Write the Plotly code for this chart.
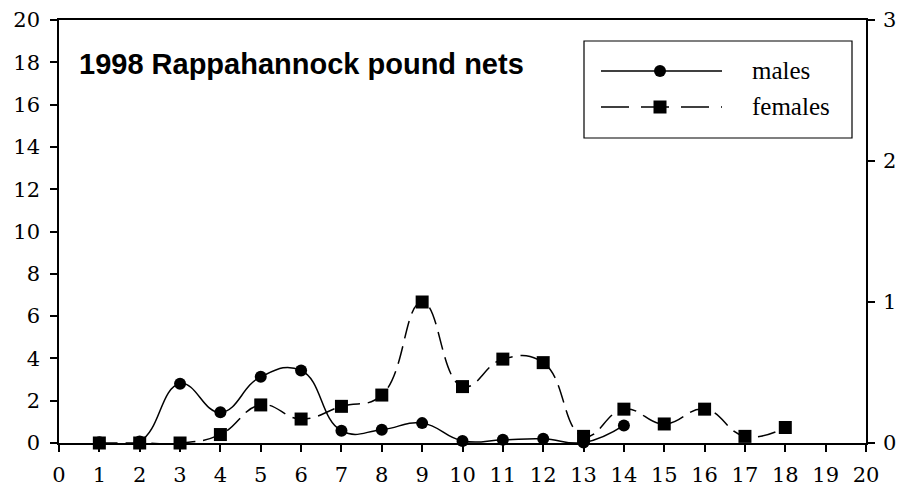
import plotly.graph_objects as go

weeks_m = [1, 2, 3, 4, 5, 6, 7, 8, 9, 10, 11, 12, 13, 14]
males = [0.03, 0.07, 2.8, 1.45, 3.13, 3.43, 0.58, 0.63, 0.94, 0.1, 0.15, 0.2, 0.02, 0.83]
weeks_f = [1, 2, 3, 4, 5, 6, 7, 8, 9, 10, 11, 12, 13, 14, 15, 16, 17, 18]
females = [0.0, 0.0, 0.0, 0.06, 0.27, 0.17, 0.26, 0.34, 1.0, 0.4, 0.595, 0.57, 0.047, 0.24, 0.135, 0.24, 0.047, 0.11]
x_ticks = list(range(0, 21))
y_left_ticks = list(range(0, 21, 2))
y_right_ticks = [0, 1, 2, 3]
title_text = "1998 Rappahannock pound nets"
legend_names = ["males", "females"]

W, H = 902, 495
L, R, T, B = 59, 36, 20, 52
PW, PH = W - L - R, H - T - B


def px(xpix):
    return (xpix - L) / PW


def py(ypix):
    return (H - B - ypix) / PH


SERIF = "DejaVu Serif"
SANS = "Liberation Sans"
DASH = "18px,8px"

fig = go.Figure()
fig.add_trace(go.Scatter(
    x=weeks_m, y=males, name=legend_names[0], mode="lines+markers",
    line=dict(color="black", width=1.5, shape="spline", smoothing=1.3),
    marker=dict(symbol="circle", size=12, color="black"),
    cliponaxis=False, yaxis="y", showlegend=False))
fig.add_trace(go.Scatter(
    x=weeks_f, y=females, name=legend_names[1], mode="lines+markers",
    line=dict(color="black", width=1.5, shape="spline", smoothing=1.3, dash=DASH),
    marker=dict(symbol="square", size=13, color="black"),
    cliponaxis=False, yaxis="y2", showlegend=False))

axis_common = dict(showgrid=False, zeroline=False, showline=True, linecolor="black",
                   linewidth=1.5, ticks="outside", ticklen=7, tickcolor="black",
                   tickwidth=1.5, automargin=False)
tf = dict(family=SERIF, size=21, color="black")

fig.update_layout(
    template="none",
    font=dict(family=SERIF, size=21, color="black"),
    width=W, height=H, margin=dict(l=L, r=R, t=T, b=B, autoexpand=False),
    paper_bgcolor="white", plot_bgcolor="white",
    xaxis=dict(range=[0, 20], tickvals=x_ticks, mirror=True, tickfont=tf,
               ticklabelstandoff=5, **axis_common),
    yaxis=dict(range=[0, 20], tickvals=y_left_ticks, tickfont=tf,
               ticklabelstandoff=6, **axis_common),
    yaxis2=dict(range=[0, 3], tickvals=y_right_ticks, overlaying="y", side="right",
                tickfont=tf, ticklabelstandoff=4, **axis_common),
    showlegend=False,
)

# Title
fig.add_annotation(x=px(77), y=py(64), xref="paper", yref="paper", text="<b>" + title_text + "</b>",
                   showarrow=False, xanchor="left", yanchor="middle",
                   font=dict(family=SANS, size=29, color="black"))

# Custom legend
shapes = []
shapes.append(dict(type="rect", xref="paper", yref="paper", x0=px(584), x1=px(852), y0=py(41), y1=py(138),
                   line=dict(color="black", width=1.2), fillcolor="white", layer="above"))
r1, r2 = 71, 107
shapes.append(dict(type="line", xref="paper", yref="paper", x0=px(601), x1=px(722), y0=py(r1), y1=py(r1),
                   line=dict(color="black", width=1.5)))
shapes.append(dict(type="line", xref="paper", yref="paper", x0=px(601), x1=px(722), y0=py(r2), y1=py(r2),
                   line=dict(color="black", width=1.5, dash="28px,12px")))
shapes.append(dict(type="circle", xref="paper", yref="paper", xsizemode="pixel", ysizemode="pixel",
                   xanchor=px(660), yanchor=py(r1), x0=-6, x1=6, y0=-6, y1=6,
                   fillcolor="black", line=dict(width=0)))
shapes.append(dict(type="rect", xref="paper", yref="paper", xsizemode="pixel", ysizemode="pixel",
                   xanchor=px(660), yanchor=py(r2), x0=-6.5, x1=6.5, y0=-6.5, y1=6.5,
                   fillcolor="black", line=dict(width=0)))
fig.update_layout(shapes=shapes)
for name, yy in zip(legend_names, [r1, r2]):
    fig.add_annotation(x=px(750), y=py(yy), xref="paper", yref="paper", text=name, showarrow=False,
                       xanchor="left", yanchor="middle",
                       font=dict(family="Liberation Serif", size=25, color="black"))

fig.write_html("out.html")
